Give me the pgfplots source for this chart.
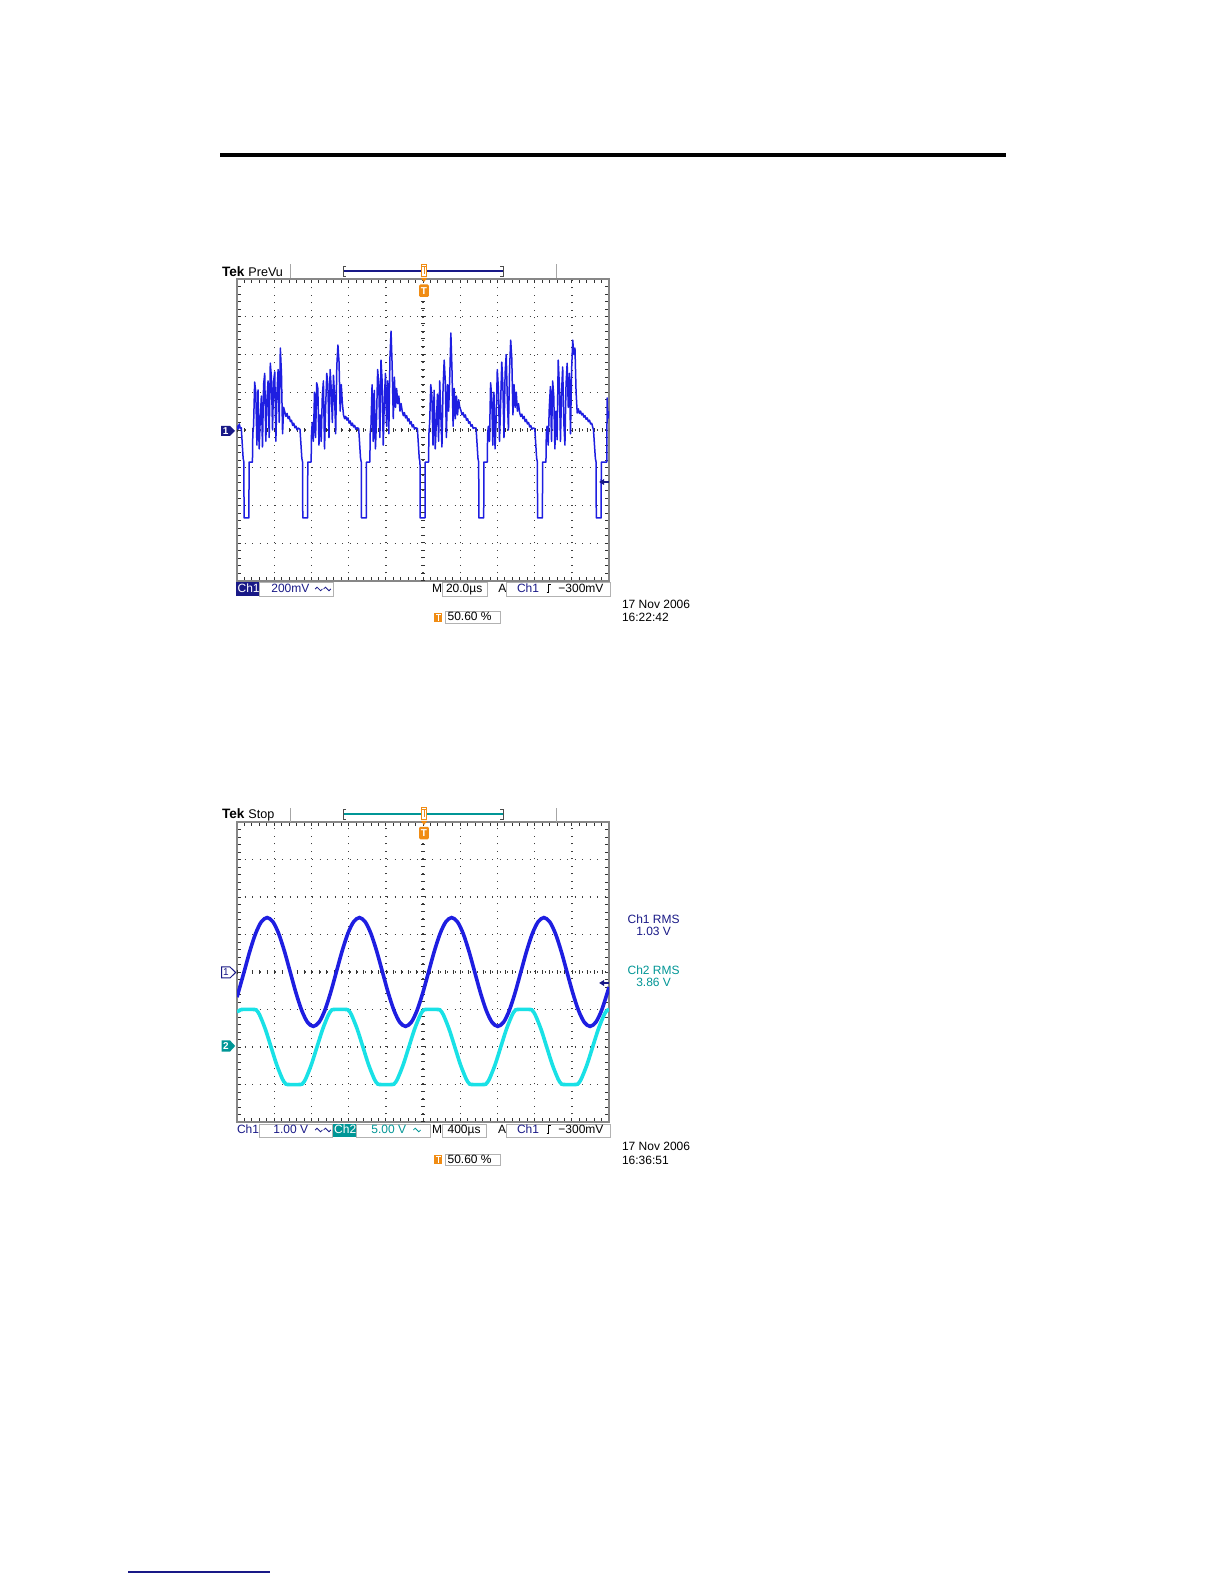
\documentclass[border=0pt]{standalone}
\usepackage{pgfplots}
\pgfplotsset{compat=1.18}
\usepackage{fontspec}
\setmainfont{Liberation Sans}
\definecolor{trace1}{RGB}{30,30,225}
\definecolor{navy}{RGB}{25,25,135}
\definecolor{cyantr}{RGB}{25,225,230}
\definecolor{teal2}{RGB}{0,150,150}
\definecolor{orng}{RGB}{240,140,20}
\definecolor{bordergray}{RGB}{135,135,135}
\newcommand{\scr}{\fontsize{6}{7}\selectfont}
\newcommand{\wave}[3]{\draw[#3, line width=0.4pt] (#1,#2) sin ++(0.9pt,0.9pt) cos ++(0.9pt,-0.9pt) sin ++(0.9pt,-0.9pt) cos ++(0.9pt,0.9pt);}
\newcommand{\edge}[2]{\draw[black, line width=0.5pt] (#1,#2) -- ++(1.1pt,0) -- ++(0,4pt) -- ++(1.3pt,0);}
\pgfplotsset{scopegrid/.style={scale only axis, width=186pt,
  xmin=0, xmax=10, ymin=-4, ymax=4,
  xtick={0,...,10}, ytick={-4,...,4}, xticklabels={}, yticklabels={},
  minor x tick num=4, minor y tick num=4, tick align=inside,
  major tick length=2pt, minor tick length=2pt,
  tick style={black!80, line width=0.4pt},
  grid=major, major grid style={black!75, line width=0.7pt, dash pattern=on 0.7pt off 3.05pt},
  axis line style={bordergray, line width=1pt},
  anchor=south west}}
\begin{document}
\begin{tikzpicture}
\fill[white] (0,0) rectangle (612pt,792pt);
\useasboundingbox (0,0) rectangle (612pt,792pt);
% page rules
\draw[black, line width=2pt] (110pt,714.5pt) -- (503pt,714.5pt);
\draw[navy, line width=0.8pt] (64pt,6pt) -- (135pt,6pt);

% ================= TOP SCOPE =================
\begin{axis}[scopegrid, at={(118.5pt,501.5pt)}, height=151pt]
\draw[black!80, line width=2pt, dash pattern=on 0.45pt off 3.27pt] (axis cs:0,0) -- (axis cs:10,0);
\draw[black!80, line width=2pt, dash pattern=on 0.45pt off 3.325pt] (axis cs:5,-4) -- (axis cs:5,4);
\addplot[trace1, line width=0.75pt, line join=round, mark=none] table {
x y
0 0.12
0.03 0.02
0.06 0.16
0.09 0.04
0.115 0.06
0.165 -0.75
0.185 -0.85
0.19 -2.33
0.32 -2.33
0.325 -0.85
0.415 -0.85
0.425 -0.1
0.445 0.1
0.475 1.27
0.505 1.0
0.535 -0.4
0.565 1.06
0.595 -0.5
0.625 0.3
0.655 0.9
0.685 -0.45
0.715 1.2
0.745 1.5
0.775 -0.3
0.805 0.8
0.835 1.3
0.865 -0.2
0.895 1.77
0.925 1.4
0.955 0.0
0.985 1.3
1.015 1.54
1.045 -0.3
1.075 1.0
1.105 1.6
1.135 0.2
1.165 2.17
1.195 1.5
1.225 -0.1
1.255 0.6
1.285 0.48
1.315 0.36
1.345 0.44
1.375 0.30
1.405 0.36
1.435 0.22
1.465 0.26
1.495 0.12
1.525 0.18
1.555 0.06
1.585 0.10
1.615 0.0
1.645 0.05
1.693 0.02
1.743 -0.75
1.763 -0.85
1.768 -2.33
1.898 -2.33
1.903 -0.85
1.993 -0.85
2.003 -0.1
2.023 0.2
2.053 -0.3
2.083 1.0
2.113 -0.2
2.143 1.25
2.173 1.1
2.203 -0.4
2.233 0.4
2.263 -0.3
2.293 0.9
2.323 1.3
2.353 -0.5
2.383 0.6
2.413 1.5
2.443 1.2
2.473 -0.2
2.503 1.6
2.533 1.1
2.563 0.2
2.593 1.45
2.623 0.9
2.653 -0.1
2.683 1.7
2.713 2.25
2.743 1.8
2.773 0.5
2.803 1.2
2.833 0.7
2.863 0.40
2.893 0.30
2.923 0.36
2.953 0.26
2.983 0.32
3.013 0.18
3.043 0.24
3.073 0.12
3.103 0.18
3.133 0.08
3.163 0.12
3.193 0.02
3.223 0.06
3.271 0.04
3.321 -0.75
3.341 -0.85
3.346 -2.33
3.476 -2.33
3.481 -0.85
3.571 -0.85
3.581 -0.1
3.601 0.1
3.631 1.2
3.661 -0.3
3.691 1.05
3.721 -0.5
3.751 0.3
3.781 1.6
3.811 1.2
3.841 -0.2
3.871 1.85
3.901 1.3
3.931 -0.4
3.961 0.8
3.991 1.5
4.021 0.1
4.051 1.3
4.081 -0.1
4.111 1.9
4.141 2.62
4.171 1.7
4.201 0.3
4.231 1.4
4.261 0.6
4.291 1.1
4.321 0.7
4.351 0.9
4.381 0.5
4.411 0.7
4.441 0.50
4.471 0.38
4.501 0.46
4.531 0.32
4.561 0.38
4.591 0.24
4.621 0.30
4.651 0.16
4.681 0.22
4.711 0.08
4.741 0.14
4.771 0.02
4.801 0.06
4.849 0.04
4.899 -0.75
4.919 -0.85
4.924 -2.33
5.054 -2.33
5.059 -0.85
5.149 -0.85
5.159 -0.1
5.179 0.2
5.209 1.2
5.239 0.9
5.269 -0.4
5.299 1.05
5.329 -0.5
5.359 0.2
5.389 0.95
5.419 -0.3
5.449 1.3
5.479 0.4
5.509 -0.45
5.539 1.1
5.569 1.85
5.599 1.3
5.629 -0.2
5.659 1.2
5.689 0.5
5.719 1.4
5.749 2.57
5.779 1.6
5.809 0.1
5.839 1.1
5.869 0.3
5.899 0.9
5.929 0.4
5.959 0.8
5.989 0.6
6.019 0.52
6.049 0.40
6.079 0.46
6.109 0.34
6.139 0.40
6.169 0.26
6.199 0.30
6.229 0.18
6.259 0.22
6.289 0.10
6.319 0.14
6.349 0.04
6.379 0.06
6.427 0.05
6.477 -0.75
6.497 -0.85
6.502 -2.33
6.632 -2.33
6.637 -0.85
6.727 -0.85
6.737 -0.1
6.757 0.1
6.787 -0.3
6.817 1.25
6.847 0.9
6.877 -0.4
6.907 1.0
6.937 -0.5
6.967 0.3
6.997 1.6
7.027 1.1
7.057 -0.3
7.087 0.7
7.117 1.8
7.147 1.2
7.177 -0.2
7.207 1.5
7.237 2.0
7.267 0.8
7.297 0.0
7.327 1.6
7.357 2.38
7.387 1.9
7.417 0.4
7.447 1.2
7.477 0.6
7.507 1.0
7.537 0.5
7.567 0.7
7.597 0.46
7.627 0.36
7.657 0.42
7.687 0.30
7.717 0.36
7.747 0.22
7.777 0.28
7.807 0.16
7.837 0.20
7.867 0.08
7.897 0.12
7.927 0.02
7.957 0.05
8.005 0.04
8.055 -0.75
8.075 -0.85
8.080 -2.33
8.210 -2.33
8.215 -0.85
8.305 -0.85
8.315 -0.1
8.335 0.1
8.365 -0.4
8.395 0.6
8.425 1.15
8.455 -0.3
8.485 1.3
8.515 0.9
8.545 -0.5
8.575 0.5
8.605 -0.26
8.635 1.85
8.665 1.2
8.695 -0.3
8.725 1.0
8.755 1.67
8.785 0.2
8.815 -0.4
8.845 1.2
8.875 1.77
8.905 0.6
8.935 1.5
8.965 -0.1
8.995 1.6
9.025 2.38
9.055 2.0
9.085 2.17
9.115 1.0
9.145 0.45
9.175 0.56
9.205 0.44
9.235 0.50
9.265 0.40
9.295 0.44
9.325 0.34
9.355 0.38
9.385 0.28
9.415 0.32
9.445 0.22
9.475 0.26
9.505 0.16
9.535 0.18
9.583 0.0
9.633 -0.75
9.653 -0.85
9.658 -2.33
9.788 -2.33
9.793 -0.85
9.94 -0.85
9.95 0.85
9.97 0.3
10.0 0.5
};
\end{axis}

% top scope decorations
\node[anchor=base west, inner sep=0, font=\bfseries\fontsize{6.8}{8}\selectfont] at (110.8pt,653.5pt) {Tek};
\node[anchor=base west, inner sep=0, font=\fontsize{6.3}{7}\selectfont] at (124pt,653.5pt) {PreVu};
\draw[gray!70, line width=0.5pt] (145pt,653pt) -- (145pt,660pt);
\draw[gray!70, line width=0.5pt] (278.3pt,653pt) -- (278.3pt,660pt);
\draw[navy, line width=0.6pt] (171.5pt,656.5pt) -- (251.5pt,656.5pt);
\draw[black!70, line width=0.4pt] (173pt,659pt) -- (171.5pt,659pt) -- (171.5pt,654pt) -- (173pt,654pt);
\draw[black!70, line width=0.4pt] (250pt,659pt) -- (251.5pt,659pt) -- (251.5pt,654pt) -- (250pt,654pt);
\draw[orng, line width=0.6pt, fill=white] (210.6pt,653.8pt) rectangle (213.4pt,659.6pt);
\draw[orng, line width=0.5pt] (211pt,658.6pt) -- (213pt,658.6pt) (212pt,658.6pt) -- (212pt,655pt);
\fill[orng] (210.4pt,653pt) -- (213.6pt,653pt) -- (212pt,651pt) -- cycle;
\fill[orng, rounded corners=0.6pt] (209.6pt,643.5pt) rectangle (214.4pt,649.8pt);
\node[white, inner sep=0, font=\bfseries\fontsize{5}{5}\selectfont] at (212pt,646.6pt) {T};
% ch1 marker
\fill[navy] (110.5pt,574pt) -- (115pt,574pt) -- (117.5pt,576.5pt) -- (115pt,579pt) -- (110.5pt,579pt) -- cycle;
\node[white, inner sep=0, font=\bfseries\fontsize{5}{5}\selectfont] at (112.8pt,576.5pt) {1};
% trigger level arrow
\draw[navy, line width=0.7pt] (301pt,551pt) -- (304.5pt,551pt);
\fill[navy] (299.6pt,551pt) -- (302pt,552.5pt) -- (302pt,549.5pt) -- cycle;
% info line
\fill[navy] (118pt,494pt) rectangle (129.5pt,501pt);
\node[white, anchor=base west, inner sep=0, font=\scr] at (118.6pt,495.5pt) {Ch1};
\draw[gray!60, line width=0.4pt] (129.5pt,494pt) rectangle (166.5pt,501pt);
\node[navy, anchor=base west, inner sep=0, font=\scr] at (135.5pt,495.5pt) {200mV};
\wave{157.6pt}{497.5pt}{navy}
\wave{161.8pt}{497.5pt}{navy}
\node[anchor=base west, inner sep=0, font=\scr] at (215.8pt,495.5pt) {M};
\draw[gray!60, line width=0.4pt] (221pt,494pt) rectangle (243.5pt,501pt);
\node[anchor=base west, inner sep=0, font=\scr] at (222.8pt,495.5pt) {20.0µs};
\node[anchor=base west, inner sep=0, font=\scr] at (249pt,495.5pt) {A};
\draw[gray!60, line width=0.4pt] (253.3pt,494pt) rectangle (305pt,501pt);
\node[navy, anchor=base west, inner sep=0, font=\scr] at (258.3pt,495.5pt) {Ch1};
\edge{273.3pt}{495.5pt}
\node[anchor=base west, inner sep=0, font=\scr] at (279pt,495.5pt) {−300mV};
% trigger position
\fill[orng] (217pt,481.2pt) rectangle (221.2pt,485.7pt);
\draw[white, line width=0.5pt] (217.9pt,484.8pt) -- (220.3pt,484.8pt) (219.1pt,484.8pt) -- (219.1pt,481.6pt);
\draw[gray!60, line width=0.4pt] (222.8pt,480.3pt) rectangle (250pt,486.2pt);
\node[anchor=base west, inner sep=0, font=\scr] at (223.6pt,481.5pt) {50.60 \%};
% date
\node[anchor=base west, inner sep=0, font=\scr] at (310.8pt,487.8pt) {17 Nov 2006};
\node[anchor=base west, inner sep=0, font=\scr] at (310.8pt,481.2pt) {16:22:42};

% ================= BOTTOM SCOPE =================
\begin{axis}[scopegrid, at={(118.5pt,231pt)}, height=150pt]
\draw[black!80, line width=2pt, dash pattern=on 0.45pt off 3.27pt] (axis cs:0,0) -- (axis cs:10,0);
\draw[black!80, line width=2pt, dash pattern=on 0.45pt off 3.3pt] (axis cs:5,-4) -- (axis cs:5,4);
\addplot[cyantr, line width=1.8pt, smooth, mark=none] table {
x y
0 -1.06
0.064 -1.03
0.126 -1.0
0.469 -1.0
0.531 -1.03
0.606 -1.14
0.761 -1.522
0.915 -2.0
1.069 -2.478
1.224 -2.86
1.299 -2.97
1.361 -3.0
1.704 -3.0
1.766 -2.97
1.841 -2.86
1.996 -2.478
2.15 -2.0
2.304 -1.522
2.459 -1.14
2.534 -1.03
2.596 -1.0
2.939 -1.0
3.001 -1.03
3.076 -1.14
3.231 -1.522
3.385 -2.0
3.539 -2.478
3.694 -2.86
3.769 -2.97
3.831 -3.0
4.174 -3.0
4.236 -2.97
4.311 -2.86
4.466 -2.478
4.62 -2.0
4.774 -1.522
4.929 -1.14
5.004 -1.03
5.066 -1.0
5.409 -1.0
5.471 -1.03
5.546 -1.14
5.701 -1.522
5.855 -2.0
6.009 -2.478
6.164 -2.86
6.239 -2.97
6.301 -3.0
6.644 -3.0
6.706 -2.97
6.781 -2.86
6.936 -2.478
7.09 -2.0
7.244 -1.522
7.399 -1.14
7.474 -1.03
7.536 -1.0
7.879 -1.0
7.941 -1.03
8.016 -1.14
8.171 -1.522
8.325 -2.0
8.479 -2.478
8.634 -2.86
8.709 -2.97
8.771 -3.0
9.114 -3.0
9.176 -2.97
9.251 -2.86
9.406 -2.478
9.56 -2.0
9.714 -1.522
9.869 -1.14
9.944 -1.03
10.0 -1.0
};
\addplot[trace1, line width=1.8pt, smooth, mark=none] table {
x y
0 -0.67
0.19 0
0.345 0.555
0.5 1.025
0.655 1.340
0.81 1.45
0.965 1.340
1.12 1.025
1.275 0.555
1.43 0
1.585 -0.555
1.74 -1.025
1.895 -1.340
2.05 -1.45
2.205 -1.340
2.36 -1.025
2.515 -0.555
2.67 0
2.825 0.555
2.98 1.025
3.135 1.340
3.29 1.45
3.445 1.340
3.6 1.025
3.755 0.555
3.91 0
4.065 -0.555
4.22 -1.025
4.375 -1.340
4.53 -1.45
4.685 -1.340
4.84 -1.025
4.995 -0.555
5.15 0
5.305 0.555
5.46 1.025
5.615 1.340
5.77 1.45
5.925 1.340
6.08 1.025
6.235 0.555
6.39 0
6.545 -0.555
6.7 -1.025
6.855 -1.340
7.01 -1.45
7.165 -1.340
7.32 -1.025
7.475 -0.555
7.63 0
7.785 0.555
7.94 1.025
8.095 1.340
8.25 1.45
8.405 1.340
8.56 1.025
8.715 0.555
8.87 0
9.025 -0.555
9.18 -1.025
9.335 -1.340
9.49 -1.45
9.645 -1.340
9.8 -1.025
9.955 -0.555
10 -0.40
};
\end{axis}

% bottom scope decorations
\node[anchor=base west, inner sep=0, font=\bfseries\fontsize{6.8}{8}\selectfont] at (110.8pt,382.5pt) {Tek};
\node[anchor=base west, inner sep=0, font=\fontsize{6.3}{7}\selectfont] at (124pt,382.5pt) {Stop};
\draw[gray!70, line width=0.5pt] (145pt,381pt) -- (145pt,388pt);
\draw[gray!70, line width=0.5pt] (278.3pt,381pt) -- (278.3pt,388pt);
\draw[teal2, line width=0.6pt] (171.5pt,385pt) -- (251.5pt,385pt);
\draw[black!70, line width=0.4pt] (173pt,387.5pt) -- (171.5pt,387.5pt) -- (171.5pt,382.5pt) -- (173pt,382.5pt);
\draw[black!70, line width=0.4pt] (250pt,387.5pt) -- (251.5pt,387.5pt) -- (251.5pt,382.5pt) -- (250pt,382.5pt);
\draw[orng, line width=0.6pt, fill=white] (210.6pt,382.3pt) rectangle (213.4pt,388.1pt);
\draw[orng, line width=0.5pt] (211pt,387.1pt) -- (213pt,387.1pt) (212pt,387.1pt) -- (212pt,383.5pt);
\fill[orng] (210.4pt,381.5pt) -- (213.6pt,381.5pt) -- (212pt,379.5pt) -- cycle;
\fill[orng, rounded corners=0.6pt] (209.6pt,372.3pt) rectangle (214.4pt,378.6pt);
\node[white, inner sep=0, font=\bfseries\fontsize{5}{5}\selectfont] at (212pt,375.4pt) {T};
% ch1 marker (outlined)
\draw[navy, line width=0.5pt, fill=white] (110.8pt,303pt) -- (115pt,303pt) -- (117.8pt,305.75pt) -- (115pt,308.5pt) -- (110.8pt,308.5pt) -- cycle;
\node[navy, inner sep=0, font=\fontsize{5}{5}\selectfont] at (113pt,305.75pt) {1};
% ch2 marker
\fill[teal2] (110.8pt,266.2pt) -- (115pt,266.2pt) -- (117.6pt,269pt) -- (115pt,271.8pt) -- (110.8pt,271.8pt) -- cycle;
\node[white, inner sep=0, font=\bfseries\fontsize{5}{5}\selectfont] at (113pt,269pt) {2};
% trigger level arrow
\draw[navy, line width=0.7pt] (301pt,300.5pt) -- (304.5pt,300.5pt);
\fill[navy] (299.6pt,300.5pt) -- (302pt,302pt) -- (302pt,299pt) -- cycle;
% RMS readouts
\node[navy, inner sep=0, anchor=base, font=\scr] at (326.8pt,330pt) {Ch1 RMS};
\node[navy, inner sep=0, anchor=base, font=\scr] at (326.8pt,324pt) {1.03 V};
\node[teal2, inner sep=0, anchor=base, font=\scr] at (326.8pt,304.5pt) {Ch2 RMS};
\node[teal2, inner sep=0, anchor=base, font=\scr] at (326.8pt,298.7pt) {3.86 V};
% info line
\node[navy, anchor=base west, inner sep=0, font=\scr] at (118.3pt,225pt) {Ch1};
\draw[gray!60, line width=0.4pt] (129.7pt,223.5pt) rectangle (166.3pt,230pt);
\node[navy, anchor=base west, inner sep=0, font=\scr] at (136.5pt,225pt) {1.00 V};
\wave{157.6pt}{227pt}{navy}
\wave{161.8pt}{227pt}{navy}
\fill[teal2] (166.3pt,223.5pt) rectangle (178.3pt,230pt);
\node[white, anchor=base west, inner sep=0, font=\scr] at (166.9pt,225pt) {Ch2};
\draw[gray!60, line width=0.4pt] (178.3pt,223.5pt) rectangle (215pt,230pt);
\node[teal2, anchor=base west, inner sep=0, font=\scr] at (185.5pt,225pt) {5.00 V};
\wave{206.7pt}{227pt}{teal2}
\node[anchor=base west, inner sep=0, font=\scr] at (215.8pt,225pt) {M};
\draw[gray!60, line width=0.4pt] (221.2pt,223.5pt) rectangle (243.3pt,230pt);
\node[anchor=base west, inner sep=0, font=\scr] at (223.6pt,225pt) {400µs};
\node[anchor=base west, inner sep=0, font=\scr] at (248.8pt,225pt) {A};
\draw[gray!60, line width=0.4pt] (253.3pt,223.5pt) rectangle (305pt,230pt);
\node[navy, anchor=base west, inner sep=0, font=\scr] at (258.3pt,225pt) {Ch1};
\edge{273.3pt}{225pt}
\node[anchor=base west, inner sep=0, font=\scr] at (279pt,225pt) {−300mV};
% trigger position
\fill[orng] (217pt,209.95pt) rectangle (221.2pt,214.45pt);
\draw[white, line width=0.5pt] (217.9pt,213.55pt) -- (220.3pt,213.55pt) (219.1pt,213.55pt) -- (219.1pt,210.35pt);
\draw[gray!60, line width=0.4pt] (222.8pt,209.05pt) rectangle (250pt,214.95pt);
\node[anchor=base west, inner sep=0, font=\scr] at (223.6pt,210.25pt) {50.60 \%};
% date
\node[anchor=base west, inner sep=0, font=\scr] at (310.8pt,216.6pt) {17 Nov 2006};
\node[anchor=base west, inner sep=0, font=\scr] at (310.8pt,209.9pt) {16:36:51};
\end{tikzpicture}
\end{document}
